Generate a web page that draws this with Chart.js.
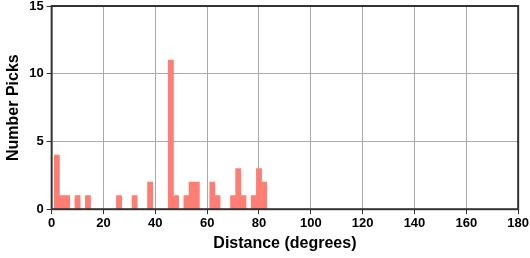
<!DOCTYPE html>
<html>
<head>
<meta charset="utf-8">
<script src="https://cdn.jsdelivr.net/npm/chart.js@4"></script>
<style>
  html, body { margin: 0; padding: 0; background: #fff; }
  #wrap { width: 530px; height: 258px; }
</style>
</head>
<body>
<div id="wrap"><canvas id="picks"></canvas></div>
<script>
// bin centres (degrees), 2-degree bins
const distances = [2, 4, 6, 10, 14, 26, 32, 38, 46, 48, 52, 54, 56, 62, 64, 70, 72, 74, 78, 80, 82];
const counts    = [4, 1, 1, 1, 1, 1, 1, 2, 11, 1, 1, 2, 2, 2, 1, 1, 3, 1, 1, 3, 2];

const BAR_COLOR = 'rgb(255, 125, 115)';

// frame around the plot area (top and right sides too)
const frame = {
  id: 'frame',
  afterDraw(chart) {
    const a = chart.chartArea;
    const c = chart.ctx;
    c.save();
    c.strokeStyle = '#333';
    c.lineWidth = 2;
    c.strokeRect(a.left, a.top, a.right - a.left, a.bottom - a.top);
    c.restore();
  }
};

const font = { family: '"Liberation Sans", Arial, sans-serif', weight: 'bold' };

new Chart(document.getElementById('picks').getContext('2d'), {
  type: 'bar',
  data: {
    datasets: [{
      data: distances.map((d, i) => ({ x: d, y: counts[i] })),
      backgroundColor: BAR_COLOR,
      borderWidth: 0,
      barPercentage: 1,
      categoryPercentage: 1
    }]
  },
  options: {
    responsive: true,
    maintainAspectRatio: false,
    animation: false,
    layout: { padding: { top: 6, right: 9, left: 0, bottom: 1 } },
    plugins: { legend: { display: false }, tooltip: { enabled: false } },
    scales: {
      x: {
        type: 'linear',
        min: 0,
        max: 180,
        offset: false,
        grid: { offset: false, color: '#aaa', tickColor: '#333', tickLength: 5 },
        border: { display: false },
        ticks: { stepSize: 20, color: '#000', font: { ...font, size: 13 }, padding: 1 },
        title: { display: true, text: 'Distance (degrees)', color: '#000', font: { ...font, size: 16 }, padding: { top: 2 } }
      },
      y: {
        min: 0,
        max: 15,
        afterFit(scale) { scale.paddingTop = 0; },
        grid: { color: '#aaa', tickColor: '#333', tickLength: 5 },
        border: { display: false },
        ticks: { stepSize: 5, color: '#000', font: { ...font, size: 13 }, padding: 3 },
        title: { display: true, text: 'Number Picks', color: '#000', font: { ...font, size: 16 }, padding: { bottom: 3 } }
      }
    }
  },
  plugins: [frame]
});
</script>
</body>
</html>
